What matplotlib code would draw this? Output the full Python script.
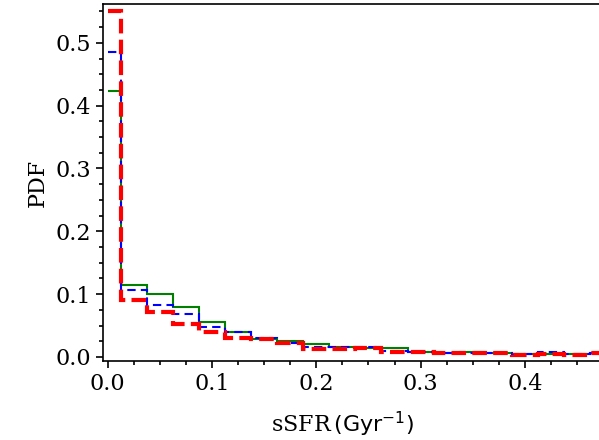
import matplotlib
matplotlib.use('Agg')
import matplotlib.pyplot as plt
from matplotlib.ticker import MultipleLocator

plt.rcParams['font.family'] = 'DejaVu Serif'
plt.rcParams['mathtext.fontset'] = 'dejavusans'

# bin edges: first half-bin 0..0.0125, then 0.025 wide bins
edges = [0.0, 0.0125, 0.0375, 0.0625, 0.0875, 0.1125, 0.1375, 0.1625, 0.1875,
         0.2125, 0.2375, 0.2625, 0.2875, 0.3125, 0.3375, 0.3625, 0.3875,
         0.4125, 0.4375, 0.4625, 0.4875, 0.5125]

pdf_green = [0.424, 0.114, 0.100, 0.079, 0.055, 0.040, 0.029, 0.026, 0.020,
             0.0165, 0.015, 0.015, 0.0075, 0.006, 0.0085, 0.006, 0.004,
             0.0045, 0.004, 0.006, 0.006]
pdf_blue = [0.485, 0.107, 0.082, 0.069, 0.047, 0.040, 0.030, 0.023, 0.0155,
            0.0155, 0.0155, 0.010, 0.0075, 0.006, 0.006, 0.006, 0.004,
            0.0085, 0.004, 0.007, 0.007]
pdf_red = [0.550, 0.091, 0.071, 0.053, 0.039, 0.031, 0.029, 0.023, 0.013,
           0.0135, 0.014, 0.0085, 0.0075, 0.006, 0.006, 0.006, 0.003,
           0.004, 0.003, 0.007, 0.007]

fig = plt.figure(figsize=(5.99, 4.40), dpi=100)
ax = fig.add_axes([0.172, 0.1795, 0.861, 0.8103])

ax.stairs(pdf_green, edges, baseline=None, color='green', lw=1.5, ls='-')
ax.stairs(pdf_blue, edges, baseline=None, color='blue', lw=1.5, ls=(0, (4, 2.5)))
ax.stairs(pdf_red, edges, baseline=None, color='red', lw=3, ls=(0, (3.5, 1.5)))

ax.set_xlim(-0.0045, 0.49)
ax.set_ylim(-0.0064, 0.561)
ax.xaxis.set_major_locator(MultipleLocator(0.1))
ax.xaxis.set_minor_locator(MultipleLocator(0.025))
ax.yaxis.set_major_locator(MultipleLocator(0.1))
ax.yaxis.set_minor_locator(MultipleLocator(0.025))
ax.tick_params(which='both', direction='out', top=False, right=False,
               labelsize=16, width=1.2)
ax.tick_params(which='major', length=5)
ax.tick_params(which='minor', length=3)
for s in ax.spines.values():
    s.set_linewidth(1.2)

ax.set_xlabel(r'sSFR$\,(\rm Gyr^{-1})$', fontsize=16)
ax.xaxis.set_label_coords(0.465, -0.137)
ax.set_ylabel('PDF', fontsize=16)
ax.yaxis.set_label_coords(-0.105, 0.5)

plt.savefig('out.png', dpi=100)
